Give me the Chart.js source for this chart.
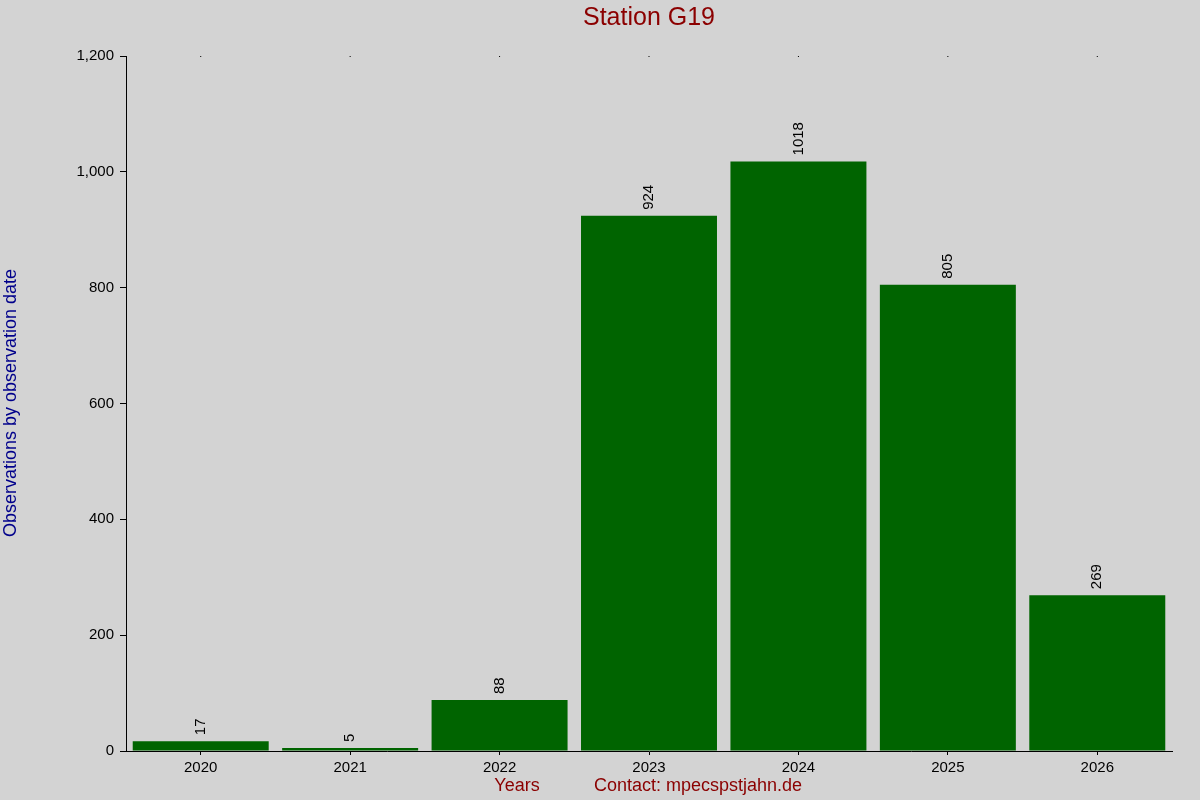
<!DOCTYPE html>
<html>
<head>
<meta charset="utf-8">
<script src="https://cdn.jsdelivr.net/npm/chart.js@4"></script>
<style>
  body { margin: 0; background: #d3d3d3; }
  #wrap { width: 1200px; height: 800px; }
</style>
</head>
<body>
<div id="wrap"><canvas id="chart" width="1200" height="800"></canvas></div>
<script>
    const years = ['2020', '2021', '2022', '2023', '2024', '2025', '2026'];
    const observations = [17, 5, 88, 924, 1018, 805, 269];
    const y_ticks = [0, 200, 400, 600, 800, 1000, 1200];

    const chart_title = "Station G19";
    const y_title = "Observations by observation date";
    const x_title = "Years";
    const contact = "Contact: mpecspstjahn.de";

    const textPlugin = {
        id: 'texts',
        afterDatasetsDraw(chart) {
            const ctx = chart.ctx;
            const meta = chart.getDatasetMeta(0);
            ctx.save();
            ctx.font = '15px "Liberation Sans", Arial, sans-serif';
            ctx.fillStyle = '#000000';
            ctx.textAlign = 'left';
            ctx.textBaseline = 'middle';
            meta.data.forEach(function (bar, i) {
                ctx.save();
                ctx.translate(bar.x, bar.y - 6);
                ctx.rotate(-Math.PI / 2);
                ctx.fillText(String(observations[i]), 0, 0);
                ctx.restore();
            });
            // small dots at top of plot area
            meta.data.forEach(function (bar) {
                ctx.fillRect(bar.x - 0.5, chart.chartArea.top, 1, 1);
            });
            ctx.restore();
        },
        afterDraw(chart) {
            const ctx = chart.ctx;
            ctx.save();
            ctx.textBaseline = 'middle';
            ctx.textAlign = 'center';
            ctx.fillStyle = '#8b0000';
            ctx.font = '25px "Liberation Sans", Arial, sans-serif';
            ctx.fillText(chart_title, 649, 18);
            ctx.font = '18px "Liberation Sans", Arial, sans-serif';
            ctx.fillText(x_title, 517, 786);
            ctx.fillText(contact, 698, 786);
            ctx.fillStyle = '#00008b';
            ctx.translate(11, 403);
            ctx.rotate(-Math.PI / 2);
            ctx.fillText(y_title, 0, 0);
            ctx.restore();
        }
    };

    new Chart(document.getElementById('chart'), {
        type: 'bar',
        data: {
            labels: years,
            datasets: [{
                data: observations,
                backgroundColor: '#006400',
                barPercentage: 0.91,
                categoryPercentage: 1.0
            }]
        },
        options: {
            responsive: false,
            animation: false,
            layout: { padding: { top: 56, right: 28, left: 0, bottom: 0 } },
            plugins: {
                legend: { display: false },
                tooltip: { enabled: false }
            },
            scales: {
                y: {
                    min: 0,
                    max: 1200,
                    afterFit(scale) { scale.width = 126; },
                    afterBuildTicks(scale) { scale.ticks = y_ticks.map(v => ({ value: v })); },
                    border: { color: '#000000', width: 1 },
                    grid: { drawOnChartArea: false, color: '#000000', tickLength: 6 },
                    ticks: {
                        color: '#000000',
                        padding: 6,
                        font: { size: 15, family: '"Liberation Sans", Arial, sans-serif' }
                    }
                },
                x: {
                    afterFit(scale) { scale.height = 49; },
                    border: { color: '#000000', width: 1 },
                    grid: { drawOnChartArea: false, color: '#000000', tickLength: 4, offset: false },
                    ticks: {
                        color: '#000000',
                        padding: 4,
                        font: { size: 15, family: '"Liberation Sans", Arial, sans-serif' }
                    }
                }
            }
        },
        plugins: [textPlugin]
    });
</script>
</body>
</html>
